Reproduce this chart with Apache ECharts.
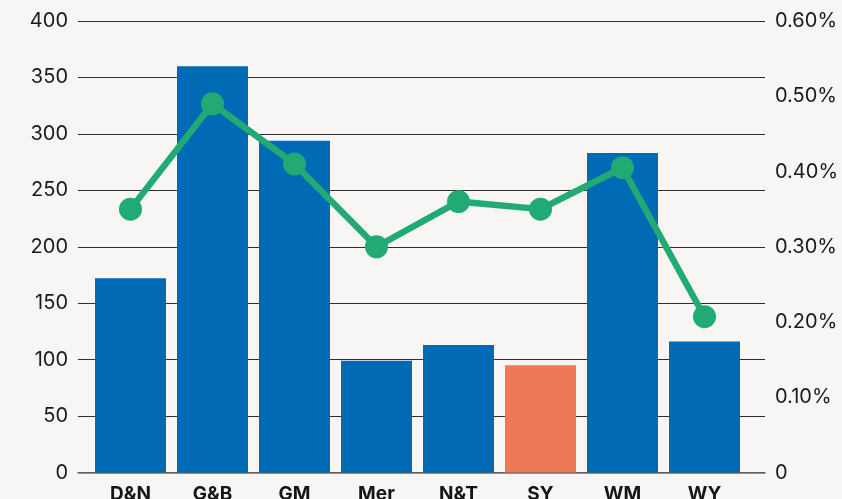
<!DOCTYPE html>
<html>
<head>
<meta charset="utf-8">
<script src="https://cdn.jsdelivr.net/npm/echarts@6/dist/echarts.min.js"></script>
<style>
  html, body { margin: 0; padding: 0; background: #f7f6f4; }
  #chart { width: 842px; height: 499px; }
</style>
</head>
<body>
<div id="chart"></div>
<script>
// data
const categories = ["D&N", "G&B", "GM", "Mer", "N&T", "SY", "WM", "WY"];
const barValues = [172, 360, 294, 99, 113, 95, 283, 116];
const lineValues = [0.35, 0.49, 0.41, 0.30, 0.36, 0.35, 0.405, 0.207];
const highlightCategory = "SY";

const blue = "#006ab5";
const orange = "#ec7a57";
const green = "#22aa74";
const font = "Inter";

const chart = echarts.init(document.getElementById("chart"));

const barData = barValues.map((v, i) => ({
  value: v,
  itemStyle: { color: categories[i] === highlightCategory ? orange : blue }
}));

const option = {
  backgroundColor: "#f7f6f4",
  animation: false,
  textStyle: { fontFamily: font },
  grid: [
    // gridlines / axis labels
    { left: 78, right: 77, top: 21, bottom: 26.5, outerBoundsMode: "none", containLabel: false },
    // marks
    { left: 89.5, right: 96.5, top: 21, bottom: 26.5, outerBoundsMode: "none", containLabel: false }
  ],
  xAxis: [
    {
      gridIndex: 0,
      type: "value",
      min: 0,
      max: 1,
      axisLine: { show: true, onZero: false, lineStyle: { color: "#6f6f6f", width: 1.5 } },
      axisTick: { show: false },
      axisLabel: { show: false },
      splitLine: { show: false }
    },
    {
      gridIndex: 1,
      type: "category",
      data: categories,
      axisLine: { show: false },
      axisTick: { show: false },
      axisLabel: {
        color: "#151515",
        fontSize: 19,
        fontWeight: "bold",
        fontFamily: font,
        margin: 12
      }
    }
  ],
  yAxis: [
    {
      gridIndex: 0,
      type: "value",
      min: 0,
      max: 400,
      interval: 50,
      axisLine: { show: false },
      axisTick: { show: false },
      axisLabel: { color: "#1a1a1a", fontSize: 20, fontFamily: font, margin: 10 },
      splitLine: { lineStyle: { color: "#2e2e2e", width: 1.2 } }
    },
    {
      gridIndex: 0,
      type: "value",
      position: "right",
      min: 0,
      max: 0.6,
      interval: 0.1,
      axisLine: { show: false },
      axisTick: { show: false },
      splitLine: { show: false },
      axisLabel: {
        color: "#1a1a1a",
        fontSize: 20,
        fontFamily: font,
        margin: 10,
        formatter: v => (v === 0 ? "0" : v.toFixed(2) + "%")
      }
    },
    { gridIndex: 1, type: "value", min: 0, max: 400, show: false },
    { gridIndex: 1, type: "value", min: 0, max: 0.6, show: false }
  ],
  series: [
    {
      type: "bar",
      xAxisIndex: 1,
      yAxisIndex: 2,
      barWidth: 71,
      data: barData
    },
    {
      type: "line",
      xAxisIndex: 1,
      yAxisIndex: 3,
      data: lineValues,
      symbol: "circle",
      symbolSize: 23,
      lineStyle: { color: green, width: 6.5 },
      itemStyle: { color: green }
    }
  ]
};

chart.setOption(option);
</script>
</body>
</html>
